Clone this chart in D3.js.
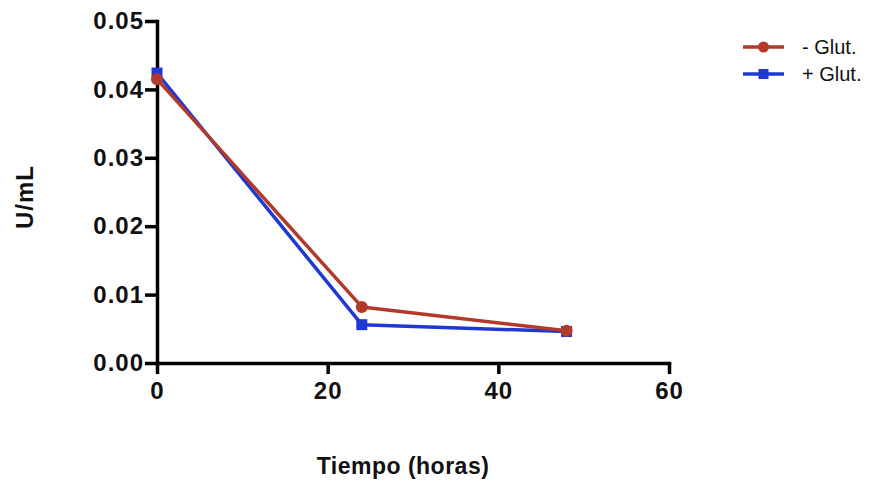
<!DOCTYPE html>
<html>
<head>
<meta charset="utf-8">
<script src="https://cdn.jsdelivr.net/npm/d3@7"></script>
<style>
  html, body { margin: 0; padding: 0; background: #fff; }
  svg { display: block; font-family: "Liberation Sans", Arial, sans-serif; }
</style>
</head>
<body>
<svg id="chart" width="886" height="480"></svg>
<script>
// Activity (U/mL) over time (hours)
const hours = [0, 24, 48];
const sinGlut = [0.0415, 0.0082, 0.0047];   // - Glut.
const conGlut = [0.0424, 0.0056, 0.0046];   // + Glut.
const xTicks = [0, 20, 40, 60];
const yTicks = [0, 0.01, 0.02, 0.03, 0.04, 0.05];

const series = [
  { name: "+ Glut.", values: conGlut, color: "#1f38d2", shape: "square" },
  { name: "- Glut.", values: sinGlut, color: "#b3392b", shape: "circle" }
];

const svg = d3.select("#chart");
const x = d3.scaleLinear().domain([0, 60]).range([157, 669]);
const y = d3.scaleLinear().domain([0, 0.05]).range([363, 21]);

// Axes
const xAxis = svg.append("g")
  .attr("transform", `translate(0,${y(0)})`)
  .call(d3.axisBottom(x).tickValues(xTicks).tickFormat(d3.format("d")).tickSize(11).tickSizeOuter(0));
const yAxis = svg.append("g")
  .attr("transform", `translate(${x(0)},0)`)
  .call(d3.axisLeft(y).tickValues(yTicks).tickFormat(d3.format(".2f")).tickSize(12).tickSizeOuter(0));

[xAxis, yAxis].forEach(a => {
  a.select(".domain").attr("stroke", "#000").attr("stroke-width", 3.5).attr("stroke-linecap", "square");
  a.selectAll(".tick line").attr("stroke", "#000").attr("stroke-width", 3.5);
  a.selectAll(".tick text")
    .attr("fill", "#111")
    .attr("font-size", "24px")
    .attr("font-weight", "700")
    .attr("letter-spacing", "1px")
    .attr("font-family", "'Liberation Sans', Arial, sans-serif");
});
xAxis.selectAll(".tick text").attr("dy", "0.71em").attr("y", 19);
yAxis.selectAll(".tick text").attr("x", -13);

// Axis titles
svg.append("text")
  .attr("x", 403).attr("y", 474)
  .attr("text-anchor", "middle")
  .attr("font-size", "23px").attr("font-weight", "700").attr("fill", "#111")
  .attr("letter-spacing", "0.5px")
  .text("Tiempo (horas)");
svg.append("text")
  .attr("transform", "translate(33,197) rotate(-90)")
  .attr("text-anchor", "middle")
  .attr("font-size", "24px").attr("font-weight", "700").attr("fill", "#111")
  .attr("letter-spacing", "1px")
  .text("U/mL");

// Lines and markers
const line = d3.line().x((d, i) => x(hours[i])).y(d => y(d));

function marker(sel, s, size) {
  if (s.shape === "circle") {
    sel.append("circle").attr("r", size / 2 + 0.5).attr("fill", s.color);
  } else {
    sel.append("rect").attr("x", -size / 2).attr("y", -size / 2)
      .attr("width", size).attr("height", size).attr("fill", s.color);
  }
}

series.forEach(s => {
  svg.append("path")
    .datum(s.values)
    .attr("d", line)
    .attr("fill", "none")
    .attr("stroke", s.color)
    .attr("stroke-width", 3.5)
    .attr("stroke-linejoin", "round");
  s.values.forEach((v, i) => {
    const g = svg.append("g").attr("transform", `translate(${x(hours[i])},${y(v)})`);
    marker(g, s, 11);
  });
});

// Legend
const legendRows = [series[1], series[0]];
legendRows.forEach((s, i) => {
  const g = svg.append("g").attr("transform", `translate(743,${47 + i * 27})`);
  g.append("line").attr("x1", 0).attr("x2", 41).attr("y1", 0).attr("y2", 0)
    .attr("stroke", s.color).attr("stroke-width", 3.5);
  const m = g.append("g").attr("transform", "translate(20.5,0)");
  marker(m, s, 10);
  g.append("text").attr("x", 59).attr("y", 0).attr("dy", "0.36em")
    .attr("font-size", "20px").attr("fill", "#111")
    .text(s.name);
});
</script>
</body>
</html>
